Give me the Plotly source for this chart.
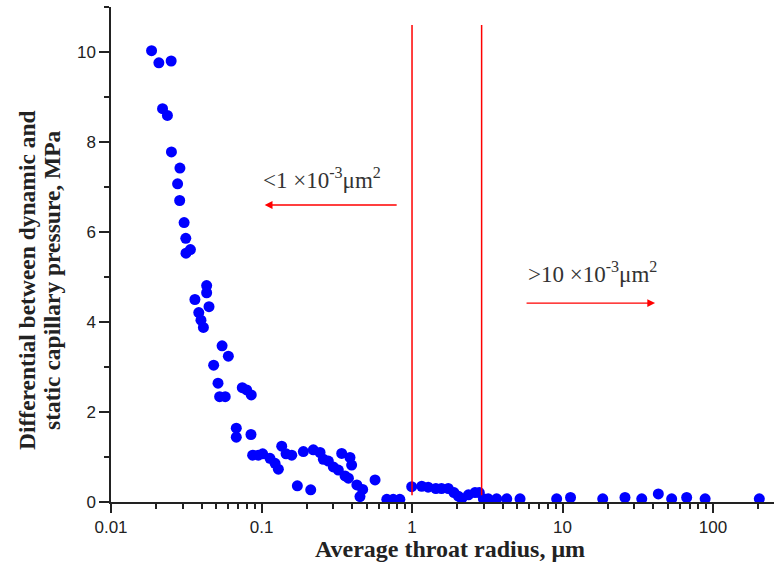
import plotly.graph_objects as go

# Average throat radius (um) and pressure differential (MPa)
radius = [0.0186, 0.0208, 0.0251, 0.0220, 0.0237, 0.0252, 0.0287, 0.0277, 0.0286, 0.0306,
          0.0314, 0.0315, 0.0337, 0.0361, 0.0432, 0.0432, 0.0448, 0.0383, 0.0396, 0.0411,
          0.0547, 0.0602, 0.0481, 0.0514, 0.0527, 0.0574, 0.0745, 0.0797, 0.0855, 0.0680,
          0.0680, 0.0851, 0.0873, 0.0952, 0.1018, 0.1138, 0.1230, 0.1294, 0.1362, 0.1456,
          0.1588, 0.1730, 0.1897, 0.2123, 0.2209, 0.2449, 0.2576, 0.278, 0.300, 0.341,
          0.387, 0.324, 0.359, 0.397, 0.378, 0.430, 0.470, 0.451, 0.568, 0.68,
          0.75, 0.83, 0.995, 1.16, 1.28, 1.44, 1.57, 1.74, 1.90, 2.03,
          2.14, 2.37, 2.62, 2.80, 2.98, 3.21, 3.65, 4.26, 5.22, 9.14,
          11.3, 18.5, 26.0, 33.6, 43.3, 53.1, 66.8, 88.6, 203]
pressure = [10.03, 9.76, 9.80, 8.74, 8.59, 7.78, 7.42, 7.07, 6.70, 6.21,
            5.86, 5.53, 5.61, 4.50, 4.81, 4.65, 4.34, 4.21, 4.04, 3.88,
            3.47, 3.24, 3.04, 2.64, 2.34, 2.34, 2.54, 2.49, 2.38, 1.64,
            1.44, 1.50, 1.04, 1.04, 1.07, 0.97, 0.86, 0.73, 1.24, 1.07,
            1.04, 0.36, 1.12, 0.27, 1.16, 1.10, 0.95, 0.91, 0.78, 1.08,
            0.99, 0.71, 0.58, 0.82, 0.53, 0.38, 0.28, 0.12, 0.49, 0.06,
            0.06, 0.06, 0.34, 0.35, 0.33, 0.30, 0.30, 0.30, 0.21, 0.13,
            0.08, 0.16, 0.21, 0.21, 0.07, 0.07, 0.07, 0.07, 0.07, 0.07,
            0.10, 0.07, 0.10, 0.07, 0.18, 0.07, 0.10, 0.07, 0.07]

boundaries = [1.0, 2.9]          # red separating lines (um)
boundary_span = [0.15, 10.6]     # vertical extent (MPa)

x_major = [0.01, 0.1, 1, 10, 100]
x_major_text = ["0.01", "0.1", "1", "10", "100"]
x_minor = [m * 10 ** k for k in range(-2, 3) for m in range(2, 10) if m * 10 ** k <= 250]
y_major = [0, 2, 4, 6, 8, 10]

fig = go.Figure()
fig.add_trace(go.Scatter(x=radius, y=pressure, mode="markers",
                         marker=dict(color="#0000ff", size=11, line=dict(width=0)),
                         showlegend=False))
for b in boundaries:
    fig.add_trace(go.Scatter(x=[b, b], y=boundary_span, mode="lines",
                             line=dict(color="#ff0000", width=1.5), showlegend=False))

tick_font = dict(family="Liberation Sans, Arial", size=17, color="#222")
serif = "Liberation Serif, Times New Roman"

fig.update_layout(
    width=776, height=567,
    margin=dict(l=111, r=2, t=7, b=65),
    plot_bgcolor="white", paper_bgcolor="white",
    xaxis=dict(type="log", range=[-2, 2.405], showgrid=False, zeroline=False,
               showline=True, linecolor="#222", linewidth=1.5,
               tickmode="array", tickvals=x_major, ticktext=x_major_text,
               ticks="outside", ticklen=9, tickwidth=1.5, tickcolor="#222",
               tickfont=tick_font,
               minor=dict(tickmode="array", tickvals=x_minor, ticks="outside",
                          ticklen=5, tickwidth=1.5, tickcolor="#222", showgrid=False)),
    yaxis=dict(range=[0, 11], showgrid=False, zeroline=False,
               showline=True, linecolor="#222", linewidth=1.5,
               tickmode="array", tickvals=y_major,
               ticks="outside", ticklen=10, tickwidth=1.5, tickcolor="#222",
               tickfont=tick_font,
               minor=dict(dtick=1, ticks="outside", ticklen=5, tickwidth=1.5,
                          tickcolor="#222", showgrid=False)),
)

# Axis titles (y title as two rotated lines)
fig.add_annotation(text="<b>Differential between dynamic and</b>",
                   xref="paper", yref="paper", x=(27 - 111) / 663, y=(502 - 280) / 495,
                   xanchor="center", yanchor="middle", textangle=-90, showarrow=False,
                   font=dict(family=serif, size=23.5, color="#222"))
fig.add_annotation(text="<b>static capillary pressure, MPa</b>",
                   xref="paper", yref="paper", x=(52 - 111) / 663, y=(502 - 280) / 495,
                   xanchor="center", yanchor="middle", textangle=-90, showarrow=False,
                   font=dict(family=serif, size=23.5, color="#222"))
fig.add_annotation(text="<b>Average throat radius, μm</b>",
                   xref="paper", yref="paper", x=(450 - 111) / 663, y=(502 - 549) / 495,
                   xanchor="center", yanchor="middle", showarrow=False,
                   font=dict(family=serif, size=24, color="#222"))

# Region labels and arrows
fig.add_annotation(text="&lt;1 ×10<sup>-3</sup>μm<sup>2</sup>", xref="x", yref="y",
                   x=-0.598, y=7.2, showarrow=False, xanchor="center", yanchor="middle",
                   font=dict(family=serif, size=23, color="#333"))
fig.add_annotation(text="&gt;10 ×10<sup>-3</sup>μm<sup>2</sup>", xref="x", yref="y",
                   x=1.196, y=5.09, showarrow=False, xanchor="center", yanchor="middle",
                   font=dict(family=serif, size=23, color="#333"))
fig.add_annotation(x=-0.979, y=6.6, ax=-0.092, ay=6.6, xref="x", yref="y",
                   axref="x", ayref="y", text="", showarrow=True,
                   arrowhead=2, arrowsize=1.2, arrowwidth=1.3, arrowcolor="#ff0000")
fig.add_annotation(x=1.615, y=4.42, ax=0.751, ay=4.42, xref="x", yref="y",
                   axref="x", ayref="y", text="", showarrow=True,
                   arrowhead=2, arrowsize=1.2, arrowwidth=1.3, arrowcolor="#ff0000")

fig.write_html("out.html", config={"displayModeBar": False},
               post_script="document.body.style.margin='0';")
